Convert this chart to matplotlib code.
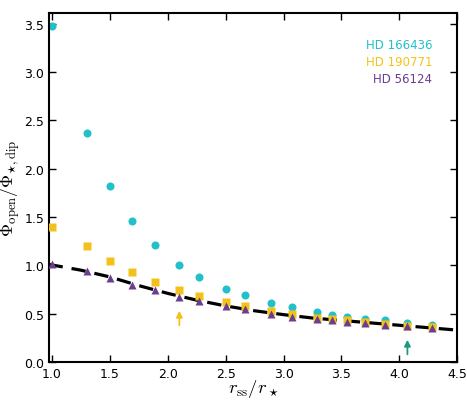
import matplotlib
matplotlib.use("Agg")
import matplotlib.pyplot as plt

plt.rcParams['mathtext.fontset'] = 'cm'
plt.rcParams['font.family'] = 'DejaVu Sans'

x_ss = [1.0, 1.3, 1.5, 1.69, 1.89, 2.1, 2.27, 2.5, 2.67, 2.89, 3.07, 3.29, 3.42, 3.55, 3.70, 3.88, 4.07, 4.28]
hd166436 = [3.48, 2.37, 1.82, 1.46, 1.21, 1.00, 0.88, 0.76, 0.69, 0.61, 0.57, 0.52, 0.49, 0.47, 0.45, 0.43, 0.40, 0.38]
hd190771 = [1.40, 1.20, 1.05, 0.935, 0.83, 0.74, 0.68, 0.62, 0.58, 0.53, 0.50, 0.46, 0.445, 0.43, 0.41, 0.39, 0.375, 0.36]
hd56124 = [1.01, 0.945, 0.87, 0.80, 0.74, 0.675, 0.63, 0.58, 0.55, 0.50, 0.47, 0.445, 0.43, 0.41, 0.40, 0.38, 0.37, 0.35]

line_x = [0.97, 1.25, 1.5, 1.75, 2.0, 2.25, 2.5, 2.75, 3.0, 3.25, 3.5, 3.75, 4.0, 4.25, 4.5]
line_y = [1.01, 0.95, 0.88, 0.79, 0.71, 0.64, 0.58, 0.53, 0.49, 0.455, 0.43, 0.405, 0.38, 0.355, 0.33]

arrow_x = [2.1, 4.07]
arrow_y0 = [0.38, 0.08]
arrow_y1 = [0.53, 0.23]
arrow_colors = ['#f2c21a', '#1a9a80']

c_cyan = '#22c0c8'
c_yellow = '#f2c21a'
c_purple = '#6b3d8f'

fig = plt.figure(figsize=(4.67, 4.02), dpi=100)
ax = fig.add_axes([0.105, 0.097, 0.874, 0.868])

ax.plot(line_x, line_y, color='black', lw=2.3, dashes=(4.5, 2.8), zorder=1)
ax.plot(x_ss, hd166436, 'o', color=c_cyan, ms=5.8, mec='none', zorder=2)
ax.plot(x_ss, hd190771, 's', color=c_yellow, ms=5.6, mec='none', zorder=3)
ax.plot(x_ss, hd56124, '^', color=c_purple, ms=6, mec='none', zorder=4)

for xa, y0, y1, c in zip(arrow_x, arrow_y0, arrow_y1, arrow_colors):
    ax.annotate('', xy=(xa, y1), xytext=(xa, y0),
                arrowprops=dict(arrowstyle='-|>', color=c, lw=1.3, mutation_scale=9,
                                shrinkA=0, shrinkB=0))

ax.set_xlim(0.974, 4.5)
ax.set_ylim(0, 3.61)
ax.set_xticks([1.0, 1.5, 2.0, 2.5, 3.0, 3.5, 4.0, 4.5])
ax.set_yticks([0.0, 0.5, 1.0, 1.5, 2.0, 2.5, 3.0, 3.5])
ax.tick_params(direction='in', top=True, right=True, length=5, width=1, labelsize=9)
for s in ax.spines.values():
    s.set_linewidth(1.5)

ax.set_xlabel(r'$r_{\rm ss}/r_\star$', fontsize=13.5, va='center')
ax.xaxis.set_label_coords(0.5, -0.075)
ax.set_ylabel(r'$\Phi_{\rm open}/\Phi_{\star,\rm dip}$', fontsize=13, va='center')
ax.yaxis.set_label_coords(-0.094, 0.5)

ax.text(0.939, 0.911, 'HD 166436', color=c_cyan, ha='right', va='center', fontsize=8.5, transform=ax.transAxes)
ax.text(0.939, 0.862, 'HD 190771', color=c_yellow, ha='right', va='center', fontsize=8.5, transform=ax.transAxes)
ax.text(0.939, 0.812, 'HD 56124', color=c_purple, ha='right', va='center', fontsize=8.5, transform=ax.transAxes)

fig.savefig('out.png', dpi=100)
